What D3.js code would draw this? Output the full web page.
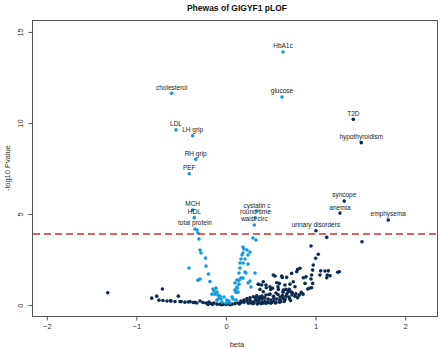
<!DOCTYPE html>
<html>
<head>
<meta charset="utf-8">
<script src="https://cdn.jsdelivr.net/npm/d3@7"></script>
<style>
  body { margin: 0; background: #fff; }
  svg { display: block; font-family: 'Liberation Sans', Arial, Helvetica, sans-serif; }
</style>
</head>
<body>
<svg id="svg" width="440" height="349"></svg>
<script>
// quantitative traits (light blue), unlabelled
const quantBeta = [-0.324, -0.313, -0.301, -0.290, -0.279, -0.229, -0.223, -0.413, -0.195, -0.313, -0.290,
  -0.179, -0.145, -0.112, -0.100, -0.123, -0.089, -0.078, -0.100, -0.056, -0.045, -0.022, 0.011, 0.033,
  0.067, 0.078, -0.156, -0.134, -0.067, 0.000, 0.045, 0.112,
  0.112, 0.123, 0.145, 0.145, 0.167, 0.145, 0.156, 0.190, 0.167, 0.190, 0.201, 0.190, 0.234, 0.246, 0.268,
  0.212, 0.246, 0.212, 0.190, 0.246, 0.268, 0.279, 0.335, 0.301, 0.179, 0.156, 0.223, 0.324, 0.123, 0.100,
  0.123, 0.100, 0.134]
const quantLogP = [4.12, 3.96, 3.63, 3.02, 2.86, 2.58, 2.14, 2.03, 1.70, 1.37, 1.43,
  1.29, 0.88, 0.93, 0.71, 0.60, 0.55, 0.38, 0.27, 0.33, 0.16, 0.44, 0.27, 0.22,
  0.44, 0.33, 0.60, 0.77, 0.49, 0.11, 0.11, 0.27,
  0.71, 0.93, 1.15, 1.37, 1.48, 1.76, 2.03, 2.31, 2.53, 2.86, 3.08, 3.19, 3.02, 2.75, 2.91,
  2.53, 2.25, 1.81, 1.48, 1.21, 1.32, 0.99, 3.57, 3.68, 2.75, 2.31, 1.76, 1.76, 1.37, 1.21,
  0.99, 0.82, 0.71]

// binary traits (dark navy), unlabelled
const binBeta = [-1.320, -0.709, -0.829, -0.773, -0.748, -0.703, -0.658, -0.614, -0.569, -0.532, -0.513,
  -0.458, -0.402, -0.368, -0.327, -0.290, -0.257, -0.223, -0.190, -0.167, -0.134, -0.100, -0.067, -0.033,
  0.000, 0.033, 0.067, 0.100, 0.134, 0.167, 0.201, 0.234, 0.268, 0.268, 0.305, 0.343, 0.372, 0.365,
  0.301, 0.335, 0.368, 0.402, 0.402, 0.435, 0.469, 0.469, 0.502, 0.536, 0.536, 0.569, 0.603, 0.603,
  0.636, 0.670, 0.703, 0.737, 0.770, 0.815, 0.402, 0.446, 0.491, 0.558, 0.636, 0.714, 0.335, 0.234,
  0.201, 0.167,
  0.379, 0.416, 0.499, 0.584, 0.640, 0.670, 0.695, 0.733, 0.818, 0.416, 0.360, 0.446, 0.566, 0.595,
  0.658, 0.528, 0.547, 0.622, 0.628, 0.677, 0.733, 0.751, 0.770, 0.714, 0.706, 0.398, 0.491, 0.826,
  0.800, 0.789, 0.863, 0.893, 0.956, 0.949, 0.967, 0.930, 0.956, 0.912, 0.882, 0.974, 0.967, 1.057,
  1.105, 1.142, 1.265, 1.247, 1.049, 1.131, 1.161, 1.124, 1.030, 1.001, 0.949, 1.124, 1.518,
  0.25, 0.28, 0.31, 0.33, 0.36, 0.38, 0.41, 0.43, 0.46, 0.48, 0.51, 0.53, 0.56, 0.58, 0.61, 0.63,
  0.66, 0.68, 0.71, 0.74, 0.78, 0.84, 0.30, 0.35, 0.39, 0.44, 0.50, 0.55, 0.60, 0.65, 0.72, 0.80,
  0.86, 0.52, 0.45, 0.58, -0.20, -0.15, -0.05, 0.05, 0.15, -0.62, -0.50, -0.42, -0.35]
const binLogP = [0.68, 0.88, 0.38, 0.49, 0.27, 0.25, 0.22, 0.22, 0.19, 0.49, 0.19,
  0.16, 0.19, 0.14, 0.11, 0.22, 0.14, 0.11, 0.16, 0.08, 0.11, 0.05, 0.05, 0.03,
  0.03, 0.05, 0.05, 0.08, 0.11, 0.14, 0.16, 0.22, 0.27, 0.40, 0.46, 0.51, 0.40, 1.14,
  0.16, 0.22, 0.27, 0.33, 0.16, 0.22, 0.33, 0.16, 0.27, 0.38, 0.22, 0.33, 0.44, 0.27,
  0.38, 0.49, 0.44, 0.55, 0.49, 0.55, 0.49, 0.55, 0.60, 0.66, 0.71, 0.77, 0.38, 0.36,
  0.27, 0.22,
  0.86, 0.73, 0.86, 0.86, 0.82, 0.86, 0.73, 0.70, 0.55, 1.28, 1.14, 1.10, 1.23, 1.19,
  1.10, 1.65, 1.59, 1.59, 1.52, 1.52, 1.74, 1.28, 1.01, 1.15, 0.86, 1.10, 1.01, 2.02,
  1.96, 1.83, 1.50, 1.55, 1.65, 1.43, 1.19, 0.92, 0.95, 0.88, 1.19, 2.20, 1.92, 1.88,
  1.87, 1.88, 1.83, 1.80, 1.65, 1.65, 1.61, 1.50, 2.79, 2.57, 3.24, 3.72, 3.48,
  0.10, 0.12, 0.10, 0.30, 0.12, 0.45, 0.10, 0.40, 0.12, 0.58, 0.14, 0.48, 0.14, 0.58, 0.20, 0.52,
  0.30, 0.62, 0.35, 0.66, 0.62, 0.70, 0.08, 0.06, 0.08, 0.10, 0.10, 0.12, 0.16, 0.20, 0.25, 0.40,
  0.60, 0.92, 0.95, 1.00, 0.03, 0.04, 0.02, 0.02, 0.06, 0.24, 0.20, 0.17, 0.15]

// significant, labelled traits
const labelTraits = ['HbA1c', 'glucose', 'cholesterol', 'LDL', 'LH grip', 'RH grip', 'PEF', 'MCH', 'HDL',
  'total protein', 'cystatin c', 'round time', 'waist circ',
  'T2D', 'hypothyroidism', 'syncope', 'anemia', 'emphysema', 'urinary disorders']
const labelBeta = [0.636, 0.625, -0.606, -0.558, -0.372, -0.338, -0.410, -0.372, -0.354,
  -0.346, 0.346, 0.329, 0.316,
  1.421, 1.510, 1.320, 1.272, 1.811, 1.004]
const labelLogP = [13.90, 11.43, 11.63, 9.62, 9.30, 8.01, 7.21, 5.22, 4.80,
  4.18, 5.16, 4.78, 4.40,
  10.20, 8.92, 5.71, 5.05, 4.67, 4.08]
const labelType = ['quant', 'quant', 'quant', 'quant', 'quant', 'quant', 'quant', 'quant', 'quant',
  'quant', 'quant', 'quant', 'quant',
  'binary', 'binary', 'binary', 'binary', 'binary', 'binary']

const threshold = 3.9
const xTicks = [-2, -1, 0, 1, 2]
const yTicks = [0, 5, 10, 15]

const colours = { quant: '#139be0', binary: '#0b2a4e' }

const svg = d3.select('#svg')

const x = d3.scaleLinear().domain([-2.165, 2.355]).range([32, 437])
const y = d3.scaleLinear().domain([-0.6, 15.6]).range([316, 21])

const axisCol = '#555'

// x axis (R style, below the box)
const xAxis = svg.append('g')
  .attr('transform', 'translate(0, 316.5)')
  .call(d3.axisBottom(x).tickValues(xTicks).tickSize(4).tickPadding(3).tickFormat(d3.format('d')))
xAxis.select('.domain').attr('stroke', axisCol).attr('d', `M${x(-2)},0H${x(2)}`)
xAxis.selectAll('.tick line').attr('stroke', axisCol)
xAxis.selectAll('.tick text').attr('fill', '#333').style('font-size', '7.5px')
  .style('font-family', 'Liberation Sans, Arial, sans-serif')

// y axis with rotated labels
const yAxis = svg.append('g')
  .attr('transform', 'translate(32.5, 0)')
  .call(d3.axisLeft(y).tickValues(yTicks).tickSize(4).tickFormat(d3.format('d')))
yAxis.select('.domain').attr('stroke', axisCol).attr('d', `M0,${y(0)}V${y(15)}`)
yAxis.selectAll('.tick line').attr('stroke', axisCol)
yAxis.selectAll('.tick text')
  .attr('fill', '#333')
  .attr('x', null).attr('dy', null)
  .attr('transform', 'translate(-12.5,0) rotate(-90)')
  .attr('text-anchor', 'middle')
  .attr('dominant-baseline', 'central')
  .style('font-size', '7.5px')
  .style('font-family', 'Liberation Sans, Arial, sans-serif')

// box
svg.append('rect')
  .attr('x', 32.5).attr('y', 20.5)
  .attr('width', 405).attr('height', 296)
  .attr('fill', 'none').attr('stroke', axisCol).attr('stroke-width', 1)

// points
const binData = binBeta.map((b, i) => ({ beta: b, p: binLogP[i] }))
const quantData = quantBeta.map((b, i) => ({ beta: b, p: quantLogP[i] }))
const labelData = labelTraits.map((t, i) => ({ name: t, beta: labelBeta[i], p: labelLogP[i], type: labelType[i] }))

svg.append('g').selectAll('circle')
  .data(binData)
  .join('circle')
  .attr('cx', d => x(d.beta))
  .attr('cy', d => y(d.p))
  .attr('r', 1.8)
  .attr('fill', colours.binary)

svg.append('g').selectAll('circle')
  .data(quantData)
  .join('circle')
  .attr('cx', d => x(d.beta))
  .attr('cy', d => y(d.p))
  .attr('r', 1.8)
  .attr('fill', colours.quant)

svg.append('g').selectAll('circle')
  .data(labelData)
  .join('circle')
  .attr('cx', d => x(d.beta))
  .attr('cy', d => y(d.p))
  .attr('r', 1.8)
  .attr('fill', d => colours[d.type])

// significance threshold
svg.append('line')
  .attr('x1', 33).attr('x2', 437)
  .attr('y1', y(threshold)).attr('y2', y(threshold))
  .attr('stroke', '#c8322f')
  .attr('stroke-width', 1.4)
  .attr('stroke-dasharray', '7,4')

// point labels
svg.append('g').selectAll('text')
  .data(labelData)
  .join('text')
  .attr('x', d => x(d.beta))
  .attr('y', d => y(d.p) - 3.6)
  .attr('text-anchor', 'middle')
  .style('font-size', '6.5px')
  .style('fill', '#222')
  .text(d => d.name)

// titles
svg.append('text')
  .attr('x', 237).attr('y', 11)
  .attr('text-anchor', 'middle')
  .style('font-size', '8.5px')
  .style('font-weight', 'bold')
  .style('fill', '#111')
  .text('Phewas of GIGYF1 pLOF')

svg.append('text')
  .attr('x', 237).attr('y', 347)
  .attr('text-anchor', 'middle')
  .style('font-size', '7.5px')
  .style('fill', '#333')
  .text('beta')

svg.append('text')
  .attr('transform', 'translate(7, 168) rotate(-90)')
  .attr('text-anchor', 'middle')
  .attr('dominant-baseline', 'central')
  .style('font-size', '7.5px')
  .style('fill', '#333')
  .text('-log10 Pvalue')
</script>
</body>
</html>
